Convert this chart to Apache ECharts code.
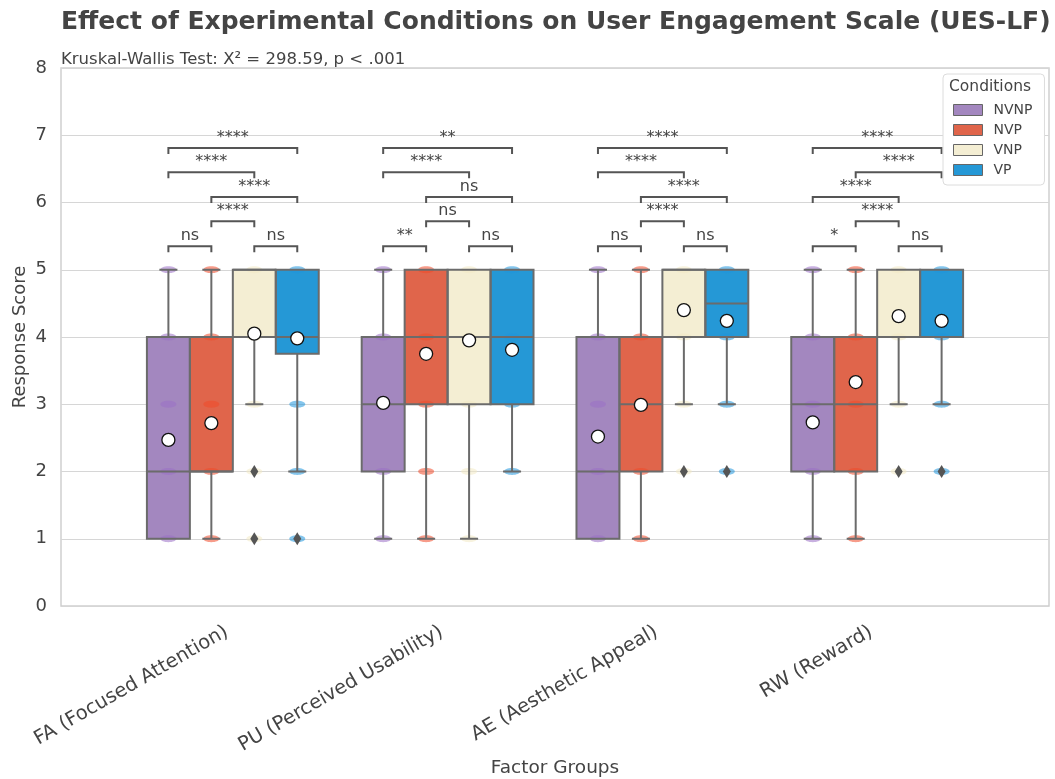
<!DOCTYPE html>
<html>
<head>
<meta charset="utf-8">
<script src="https://cdn.jsdelivr.net/npm/echarts@6/dist/echarts.min.js"></script>
<style>
  html, body { margin: 0; padding: 0; background: #fff; }
  #chart { width: 1055px; height: 779px; }
</style>
</head>
<body>
<div id="chart"></div>
<script>
const categories = ['FA (Focused Attention)', 'PU (Perceived Usability)', 'AE (Aesthetic Appeal)', 'RW (Reward)'];
const conditions = ['NVNP', 'NVP', 'VNP', 'VP'];

// [whisker low, Q1, median, Q3, whisker high], one row per category
const boxNVNP = [[1, 1, 2, 4, 5], [1, 2, 3, 4, 5], [1, 1, 2, 4, 5], [1, 2, 3, 4, 5]];
const boxNVP = [[1, 2, 2, 4, 5], [1, 3, 4, 5, 5], [1, 2, 3, 4, 5], [1, 2, 3, 4, 5]];
const boxVNP = [[3, 4, 5, 5, 5], [1, 3, 4, 5, 5], [3, 4, 5, 5, 5], [3, 4, 4, 5, 5]];
const boxVP = [[2, 3.75, 4, 5, 5], [2, 3, 4, 5, 5], [3, 4, 4.5, 5, 5], [3, 4, 4, 5, 5]];

const meanNVNP = [2.47, 3.02, 2.52, 2.73];
const meanNVP = [2.72, 3.75, 2.99, 3.33];
const meanVNP = [4.05, 3.95, 4.40, 4.31];
const meanVP = [3.98, 3.81, 4.24, 4.24];

const outNVNP = [[], [], [], []];
const outNVP = [[], [], [], []];
const outVNP = [[2, 1], [], [2], [2]];
const outVP = [[1], [], [2], [2]];

// observed response levels (strip points)
const stripNVNP = [[1, 2, 3, 4, 5], [1, 2, 3, 4, 5], [1, 2, 3, 4, 5], [1, 2, 3, 4, 5]];
const stripNVP = [[1, 2, 3, 4, 5], [1, 2, 3, 4, 5], [1, 2, 4, 5], [1, 2, 3, 4, 5]];
const stripVNP = [[1, 2, 3, 4, 5], [1, 2, 3, 4, 5], [2, 3, 4, 5], [2, 3, 4, 5]];
const stripVP = [[1, 2, 3, 4, 5], [2, 3, 4, 5], [2, 3, 4, 5], [2, 3, 4, 5]];

// significance brackets: pairs of condition indexes, stacking level, label
const pairsDefault = [[0, 1], [2, 3], [1, 2], [1, 3], [0, 2], [0, 3]];
const pairsRW = [[0, 1], [2, 3], [1, 2], [0, 2], [1, 3], [0, 3]];
const pairLevels = [0, 0, 1, 2, 3, 4];
const levelY = [5.35, 5.72, 6.08, 6.45, 6.81];
const sigFA = ['ns', 'ns', '****', '****', '****', '****'];
const sigPU = ['**', 'ns', 'ns', 'ns', '****', '**'];
const sigAE = ['ns', 'ns', '****', '****', '****', '****'];
const sigRW = ['*', 'ns', '****', '****', '****', '****'];

const yTicks = [0, 1, 2, 3, 4, 5, 6, 7, 8];

const boxColors = ['#a387bf', '#e0654b', '#f4eed3', '#2598d6'];
const pointColors = ['#9a70c6', '#f04a2a', '#f3e9c4', '#1f95dc'];
const FONT = 'DejaVu Sans';
const TEXT = '#444';
const BOX_W = 0.2;

const boxes = [boxNVNP, boxNVP, boxVNP, boxVP];
const means = [meanNVNP, meanNVP, meanVNP, meanVP];
const outs = [outNVNP, outNVP, outVNP, outVP];
const strips = [stripNVNP, stripNVP, stripVNP, stripVP];
const pairsByCat = [pairsDefault, pairsDefault, pairsDefault, pairsRW];
const sigByCat = [sigFA, sigPU, sigAE, sigRW];

const xPos = (ci, j) => ci + (j - 1.5) * BOX_W;

const chart = echarts.init(document.getElementById('chart'));

const fillSeries = conditions.map((name, j) => ({
  name: name,
  type: 'custom',
  z: 2,
  itemStyle: { color: boxColors[j], borderColor: '#666', borderWidth: 1 },
  encode: { x: 0, y: [1, 5] },
  data: boxes[j].map((b, ci) => [xPos(ci, j)].concat(b)),
  renderItem: (params, api) => {
    const x = api.value(0);
    const tl = api.coord([x - BOX_W / 2, api.value(4)]);
    const br = api.coord([x + BOX_W / 2, api.value(2)]);
    return {
      type: 'rect',
      shape: { x: tl[0], y: tl[1], width: br[0] - tl[0], height: br[1] - tl[1] },
      style: { fill: boxColors[j] }
    };
  }
}));

const lineData = [];
boxes.forEach((arr, j) => arr.forEach((b, ci) => lineData.push([xPos(ci, j)].concat(b))));

const stripData = [];
strips.forEach((arr, j) => arr.forEach((vals, ci) => vals.forEach(v => stripData.push([xPos(ci, j), v, j]))));

const meanData = [];
means.forEach((arr, j) => arr.forEach((m, ci) => meanData.push([xPos(ci, j), m])));

const outData = [];
outs.forEach((arr, j) => arr.forEach((vals, ci) => vals.forEach(v => outData.push([xPos(ci, j), v]))));

const bracketData = [];
const bracketText = [];
pairsByCat.forEach((pairs, ci) => pairs.forEach((p, k) => {
  bracketData.push([xPos(ci, p[0]), xPos(ci, p[1]), levelY[pairLevels[k]]]);
  bracketText.push(sigByCat[ci][k]);
}));

const option = {
  backgroundColor: '#fff',
  animation: false,
  textStyle: { fontFamily: FONT },
  title: [
    {
      text: 'Effect of Experimental Conditions on User Engagement Scale (UES-LF)',
      left: 56, top: 5,
      textStyle: { fontFamily: FONT, fontSize: 25, fontWeight: 'bold', color: TEXT }
    },
    {
      text: 'Kruskal-Wallis Test: X² = 298.59, p < .001',
      left: 56, top: 46,
      textStyle: { fontFamily: FONT, fontSize: 16.5, fontWeight: 'normal', color: TEXT }
    }
  ],
  graphic: [
    {
      type: 'text',
      z: 100,
      left: 949, top: 79,
      style: { text: 'Conditions', fontFamily: FONT, fontSize: 15.5, fill: TEXT }
    }
  ],
  legend: {
    data: conditions,
    orient: 'vertical',
    left: 943, top: 74,
    padding: [29, 12, 8, 10],
    itemGap: 6,
    itemWidth: 29,
    itemHeight: 11,
    icon: 'rect',
    backgroundColor: '#fff',
    borderColor: '#dcdcdc',
    borderWidth: 1,
    borderRadius: 4,
    itemStyle: { borderColor: '#666', borderWidth: 1 },
    textStyle: { fontFamily: FONT, fontSize: 14, color: TEXT, padding: [0, 0, 0, 6] },
    z: 20
  },
  grid: {
    left: 61, right: 6, top: 68, bottom: 173,
    outerBoundsMode: 'none',
    containLabel: false,
    show: true, borderColor: '#cfcfcf', borderWidth: 1.5
  },
  xAxis: {
    type: 'value',
    min: -0.8, max: 3.8,
    name: 'Factor Groups',
    nameLocation: 'middle',
    nameGap: 153,
    nameMoveOverlap: false,
    nameTextStyle: { fontFamily: FONT, fontSize: 18.5, color: TEXT },
    axisLine: { show: false },
    axisTick: { show: false },
    splitLine: { show: false },
    axisLabel: {
      customValues: [0, 1, 2, 3],
      formatter: v => categories[Math.round(v)],
      rotate: 30,
      margin: 21,
      padding: [0, 7, 0, 0],
      fontFamily: FONT, fontSize: 19.5, color: TEXT
    }
  },
  yAxis: {
    type: 'value',
    min: yTicks[0], max: yTicks[yTicks.length - 1], interval: 1,
    name: 'Response Score',
    nameLocation: 'middle',
    nameGap: 32,
    nameMoveOverlap: false,
    nameTextStyle: { fontFamily: FONT, fontSize: 18, color: TEXT },
    axisLine: { show: false },
    axisTick: { show: false },
    splitLine: { show: true, lineStyle: { color: '#d6d6d6', width: 1.2 } },
    axisLabel: { margin: 14, fontFamily: FONT, fontSize: 18, color: TEXT }
  },
  series: fillSeries.concat([
    {
      name: 'strip',
      type: 'custom',
      z: 3,
      encode: { x: 0, y: 1 },
      data: stripData,
      renderItem: (params, api) => {
        const c = api.coord([api.value(0), api.value(1)]);
        return {
          type: 'ellipse',
          shape: { cx: c[0], cy: c[1], rx: 8, ry: 3.4 },
          style: { fill: pointColors[api.value(2)], opacity: 0.55 }
        };
      }
    },
    {
      name: 'boxLines',
      type: 'custom',
      z: 4,
      encode: { x: 0, y: [1, 5] },
      data: lineData,
      renderItem: (params, api) => {
        const x = api.value(0);
        const lo = api.value(1), q1 = api.value(2), md = api.value(3), q3 = api.value(4), hi = api.value(5);
        const half = BOX_W / 2, cap = BOX_W * 0.21;
        const st = { stroke: '#6b6b6b', lineWidth: 2, fill: null };
        const seg = (x1, y1, x2, y2) => {
          const a = api.coord([x1, y1]), b = api.coord([x2, y2]);
          return { type: 'line', shape: { x1: a[0], y1: a[1], x2: b[0], y2: b[1] }, style: st };
        };
        const tl = api.coord([x - half, q3]), br = api.coord([x + half, q1]);
        const children = [
          { type: 'rect', shape: { x: tl[0], y: tl[1], width: br[0] - tl[0], height: br[1] - tl[1] }, style: st },
          seg(x - half, md, x + half, md)
        ];
        if (hi > q3) {
          children.push(seg(x, q3, x, hi));
          children.push(seg(x - cap, hi, x + cap, hi));
        }
        if (lo < q1) {
          children.push(seg(x, q1, x, lo));
          children.push(seg(x - cap, lo, x + cap, lo));
        }
        return { type: 'group', children: children };
      }
    },
    {
      name: 'outliers',
      type: 'scatter',
      z: 5,
      symbol: 'diamond',
      symbolSize: [8, 13],
      itemStyle: { color: '#555', opacity: 1 },
      data: outData
    },
    {
      name: 'means',
      type: 'scatter',
      z: 6,
      symbol: 'circle',
      symbolSize: 13,
      itemStyle: { color: '#ffffff', borderColor: '#111', borderWidth: 1.3, opacity: 1 },
      data: meanData
    },
    {
      name: 'brackets',
      type: 'custom',
      z: 7,
      encode: { x: [0, 1], y: 2 },
      data: bracketData,
      renderItem: (params, api) => {
        const a = api.coord([api.value(0), api.value(2)]);
        const b = api.coord([api.value(1), api.value(2)]);
        const tip = 6;
        return {
          type: 'group',
          children: [
            {
              type: 'polyline',
              shape: { points: [[a[0], a[1] + tip], [a[0], a[1]], [b[0], b[1]], [b[0], b[1] + tip]] },
              style: { stroke: '#555', lineWidth: 2, fill: null }
            },
            {
              type: 'text',
              style: {
                text: bracketText[params.dataIndex],
                x: (a[0] + b[0]) / 2, y: a[1] - 2,
                align: 'center', verticalAlign: 'bottom',
                fontFamily: FONT, fontSize: 16, fill: TEXT
              }
            }
          ]
        };
      }
    }
  ])
};

chart.setOption(option);
</script>
</body>
</html>
